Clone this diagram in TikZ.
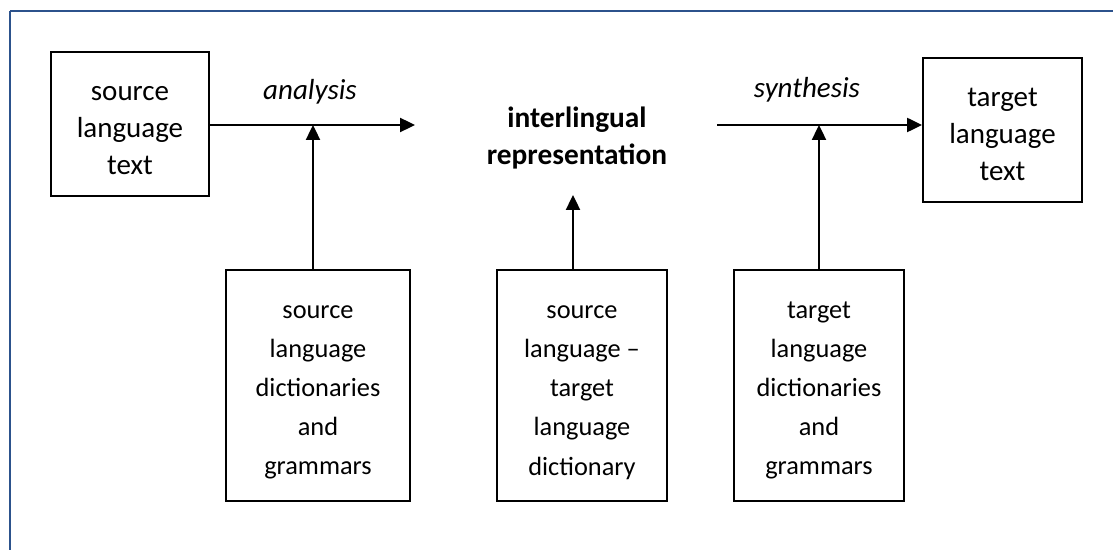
\documentclass[tikz,border=0pt]{standalone}
\usepackage{fontspec}
\setmainfont{Carlito}
\usetikzlibrary{arrows.meta}
\definecolor{frameblue}{RGB}{44,82,140}
\newcommand{\topgap}{\rule{0pt}{15.5pt}}
\begin{document}
\begin{tikzpicture}[x=0.02cm,y=-0.02cm,
  box/.style={draw,line width=1.1pt,align=center,inner sep=0pt},
  endbox/.style={box,minimum height=2.88cm,font=\fontsize{16.5}{21.3}\selectfont},
  tallbox/.style={box,minimum height=4.62cm,font=\fontsize{15}{22.2}\selectfont},
  flow/.style={line width=1.1pt,-{Triangle[length=8.5pt,width=8pt]}},
  stage/.style={font=\fontsize{16.5}{21}\selectfont\itshape}]
\useasboundingbox (0,0) rectangle (1113,550);
% ---- frame (cut at the right and bottom)
\draw[frameblue,line width=1.2pt] (10,550) -- (10,11);
\draw[frameblue,line width=0.9pt] (10,11) -- (1113,11);
% ---- texts at the two ends
\node[endbox,minimum width=3.16cm] (src) at (130,124) {\topgap source\\language\\text};
\node[endbox,minimum width=3.18cm] (tgt) at (1002.5,130) {\topgap target\\language\\text};
% ---- pivot
\node[font=\fontsize{16.7}{21.5}\selectfont\bfseries,align=center] (irep) at (577,138) {interlingual\\representation};
% ---- resources
\node[tallbox,minimum width=3.68cm] (sld) at (318,385.5) {\topgap source\\language\\dictionaries\\and\\grammars};
\node[tallbox,minimum width=3.40cm] (sltd) at (582,385.5) {\topgap source\\language --\\target\\language\\dictionary};
\node[tallbox,minimum width=3.40cm] (tld) at (819,385.5) {\topgap target\\language\\dictionaries\\and\\grammars};
% ---- stages
\coordinate (ana) at (415,125);
\coordinate (syn) at (717,125);
\coordinate (irepin) at (573,195);
\node[stage] (analbl) at (310,92) {analysis};
\node[stage] (synlbl) at (807,90) {synthesis};
\draw[flow] (src.east |- ana) -- (ana);
\draw[flow] (syn) -- (syn -| tgt.west);
\draw[flow] ([xshift=-0.1cm]sld.north) -- ([xshift=-0.1cm]sld.north |- ana);
\draw[flow] (sltd.north -| irepin) -- (irepin);
\draw[flow] (tld.north) -- (tld.north |- syn);
\end{tikzpicture}
\end{document}
